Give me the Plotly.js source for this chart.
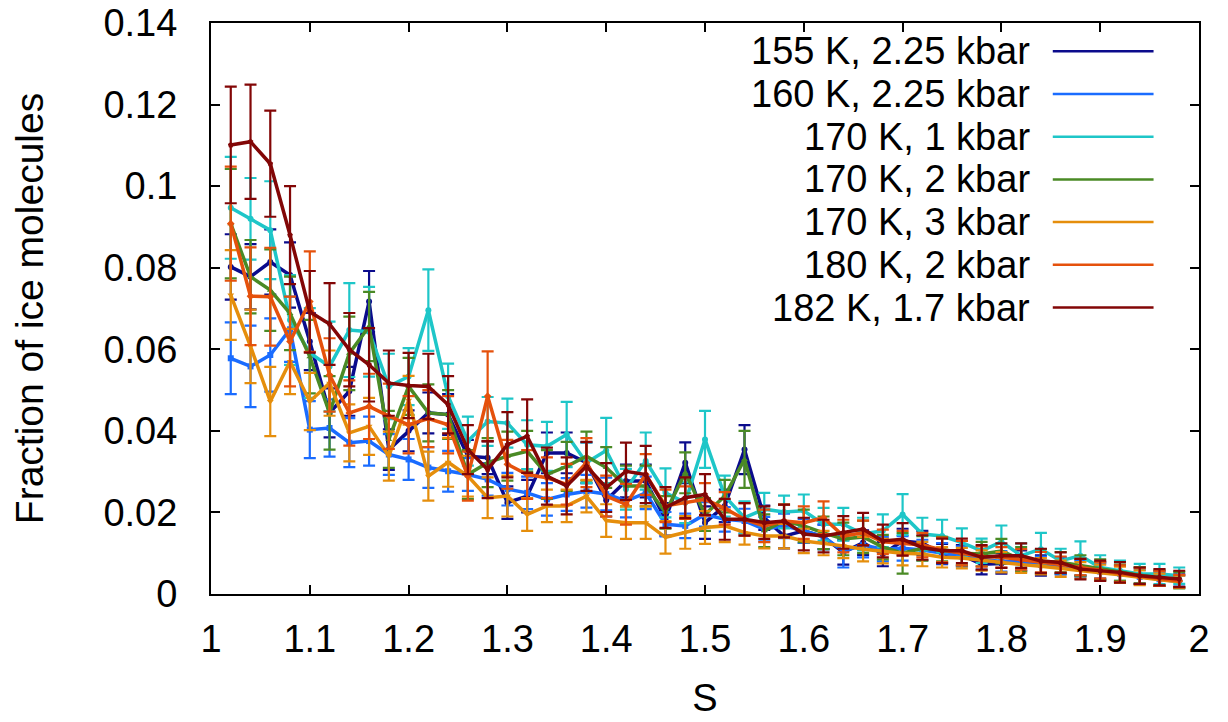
<!DOCTYPE html>
<html>
<head>
<meta charset="utf-8">
<script src="https://cdn.plot.ly/plotly-3.0.1.min.js"></script>
<style>html,body{margin:0;padding:0;background:#fff;}#chart{width:1228px;height:722px;}</style>
</head>
<body>
<div id="chart"></div>
<script>
const S = [1.02,1.04,1.06,1.08,1.10,1.12,1.14,1.16,1.18,1.20,1.22,1.24,1.26,1.28,1.30,1.32,1.34,1.36,1.38,1.40,
           1.42,1.44,1.46,1.48,1.50,1.52,1.54,1.56,1.58,1.60,1.62,1.64,1.66,1.68,1.70,1.72,1.74,1.76,1.78,1.80,
           1.82,1.84,1.86,1.88,1.90,1.92,1.94,1.96,1.98];

const labels = ["155 K, 2.25 kbar","160 K, 2.25 kbar","170 K, 1 kbar","170 K, 2 kbar","170 K, 3 kbar","180 K, 2 kbar","182 K, 1.7 kbar"];

const y155 = [0.0802,0.0778,0.0814,0.0782,0.0619,0.0444,0.0497,0.0717,0.0354,0.0400,0.0444,0.0440,0.0338,0.0334,0.0224,0.0240,0.0346,0.0346,0.0322,0.0230,
              0.0277,0.0277,0.0183,0.0322,0.0175,0.0216,0.0354,0.0187,0.0142,0.0155,0.0140,0.0102,0.0126,0.0098,0.0130,0.0125,0.0098,0.0095,0.0073,0.0075,
              0.0082,0.0070,0.0068,0.0065,0.0058,0.0050,0.0045,0.0038,0.0033];
const e155 = [0.008,0.008,0.008,0.008,0.007,0.006,0.006,0.0075,0.005,0.005,0.005,0.005,0.004,0.004,0.004,0.004,0.005,0.005,0.005,0.004,
              0.004,0.004,0.004,0.005,0.004,0.004,0.006,0.003,0.003,0.003,0.003,0.003,0.003,0.003,0.003,0.003,0.0025,0.0025,0.0025,0.0025,
              0.0025,0.0025,0.002,0.002,0.002,0.002,0.002,0.0018,0.0015];

const y160 = [0.0578,0.0558,0.0586,0.0649,0.0403,0.0407,0.0371,0.0375,0.0342,0.0330,0.0310,0.0301,0.0293,0.0281,0.0257,0.0248,0.0232,0.0244,0.0252,0.0245,
              0.0228,0.0248,0.0171,0.0167,0.0195,0.0183,0.0179,0.0159,0.0167,0.0155,0.0140,0.0105,0.0120,0.0110,0.0112,0.0108,0.0100,0.0092,0.0085,0.0080,
              0.0078,0.0072,0.0070,0.0062,0.0055,0.0050,0.0042,0.0036,0.0030];
const e160 = [0.0088,0.010,0.009,0.008,0.007,0.007,0.006,0.006,0.005,0.005,0.005,0.005,0.004,0.004,0.004,0.004,0.004,0.004,0.004,0.004,
              0.004,0.004,0.003,0.003,0.003,0.003,0.003,0.003,0.003,0.003,0.003,0.004,0.003,0.003,0.003,0.0025,0.0025,0.0025,0.0025,0.0025,
              0.002,0.002,0.002,0.002,0.002,0.002,0.0018,0.0015,0.0015];

const y170a = [0.0947,0.0920,0.0892,0.0672,0.0591,0.0558,0.0647,0.0643,0.0509,0.0533,0.0696,0.0485,0.0375,0.0423,0.0419,0.0366,0.0362,0.0391,0.0322,0.0352,
               0.0257,0.0326,0.0248,0.0224,0.0379,0.0240,0.0187,0.0208,0.0201,0.0204,0.0171,0.0171,0.0147,0.0155,0.0195,0.0147,0.0142,0.0126,0.0106,0.0128,
               0.0094,0.0110,0.0081,0.0094,0.0065,0.0057,0.0049,0.0049,0.0045];
const e170a = [0.0125,0.010,0.012,0.011,0.011,0.011,0.0115,0.011,0.008,0.007,0.010,0.008,0.006,0.006,0.006,0.006,0.006,0.008,0.005,0.008,
               0.005,0.007,0.006,0.005,0.007,0.005,0.004,0.004,0.004,0.004,0.004,0.004,0.004,0.004,0.005,0.004,0.004,0.0035,0.003,0.004,
               0.003,0.004,0.003,0.0035,0.003,0.0025,0.0025,0.0025,0.002];

const y170b = [0.0908,0.0778,0.0745,0.0688,0.0582,0.0444,0.0590,0.0656,0.0379,0.0509,0.0444,0.0440,0.0293,0.0322,0.0338,0.0350,0.0293,0.0313,0.0338,0.0310,
               0.0265,0.0265,0.0200,0.0297,0.0195,0.0240,0.0330,0.0155,0.0179,0.0167,0.0150,0.0135,0.0140,0.0115,0.0100,0.0112,0.0110,0.0100,0.0098,0.0105,
               0.0085,0.0080,0.0078,0.0070,0.0060,0.0052,0.0046,0.0040,0.0034];
const e170b = [0.0134,0.009,0.010,0.009,0.009,0.009,0.009,0.0085,0.007,0.007,0.007,0.006,0.006,0.006,0.006,0.005,0.006,0.006,0.006,0.005,
               0.005,0.005,0.004,0.005,0.004,0.004,0.007,0.004,0.004,0.004,0.004,0.004,0.004,0.003,0.005,0.003,0.003,0.003,0.003,0.003,
               0.003,0.003,0.0025,0.0025,0.0025,0.002,0.002,0.002,0.002];

const y170c = [0.0733,0.0607,0.0472,0.0570,0.0472,0.0517,0.0395,0.0411,0.0338,0.0475,0.0289,0.0323,0.0289,0.0236,0.0240,0.0195,0.0216,0.0216,0.0240,0.0180,
               0.0175,0.0175,0.0139,0.0151,0.0163,0.0167,0.0151,0.0142,0.0142,0.0130,0.0125,0.0118,0.0110,0.0105,0.0100,0.0098,0.0090,0.0088,0.0082,0.0078,
               0.0072,0.0068,0.0062,0.0058,0.0052,0.0047,0.0040,0.0035,0.0030];
const e170c = [0.011,0.009,0.0085,0.008,0.007,0.008,0.007,0.007,0.006,0.006,0.006,0.006,0.005,0.005,0.005,0.004,0.004,0.004,0.004,0.004,
               0.004,0.004,0.004,0.004,0.004,0.004,0.003,0.003,0.003,0.003,0.003,0.003,0.003,0.003,0.003,0.003,0.0025,0.0025,0.0025,0.0025,
               0.002,0.002,0.002,0.002,0.002,0.002,0.0018,0.0015,0.0015];

const y180 = [0.0908,0.0730,0.0729,0.0619,0.0717,0.0537,0.0444,0.0460,0.0436,0.0415,0.0430,0.0415,0.0289,0.0485,0.0318,0.0293,0.0285,0.0269,0.0322,0.0240,
              0.0220,0.0293,0.0216,0.0224,0.0232,0.0210,0.0183,0.0167,0.0179,0.0175,0.0187,0.0142,0.0150,0.0128,0.0125,0.0120,0.0108,0.0100,0.0092,0.0090,
              0.0085,0.0078,0.0072,0.0066,0.0058,0.0050,0.0044,0.0038,0.0032];
const e180 = [0.014,0.012,0.012,0.011,0.0123,0.009,0.008,0.008,0.008,0.007,0.007,0.007,0.006,0.011,0.006,0.006,0.005,0.005,0.006,0.005,
              0.005,0.005,0.004,0.004,0.004,0.004,0.004,0.004,0.004,0.004,0.004,0.004,0.003,0.003,0.003,0.003,0.003,0.003,0.0025,0.0025,
              0.0025,0.0025,0.002,0.002,0.002,0.002,0.002,0.0018,0.0015];

const y182 = [0.1101,0.1109,0.1055,0.0880,0.0692,0.0662,0.0599,0.0562,0.0517,0.0511,0.0509,0.0464,0.0354,0.0305,0.0366,0.0387,0.0289,0.0265,0.0313,0.0261,
              0.0301,0.0293,0.0212,0.0236,0.0244,0.0183,0.0183,0.0175,0.0179,0.0147,0.0142,0.0151,0.0159,0.0130,0.0134,0.0114,0.0106,0.0106,0.0090,0.0094,
              0.0094,0.0081,0.0077,0.0061,0.0057,0.0053,0.0045,0.0041,0.0037];
const e182 = [0.0143,0.014,0.013,0.012,0.010,0.010,0.009,0.009,0.008,0.008,0.008,0.007,0.006,0.007,0.008,0.009,0.007,0.007,0.006,0.006,
              0.007,0.007,0.005,0.005,0.005,0.005,0.004,0.004,0.004,0.004,0.004,0.004,0.004,0.004,0.004,0.003,0.003,0.003,0.003,0.003,
              0.003,0.003,0.0025,0.0025,0.0025,0.0025,0.002,0.002,0.002];

const xTicks = [1,1.1,1.2,1.3,1.4,1.5,1.6,1.7,1.8,1.9,2];
const yTicks = [0,0.02,0.04,0.06,0.08,0.1,0.12,0.14];

const series = [
  {y:y155, e:e155, color:"#0b0b8c", sym:"circle"},
  {y:y160, e:e160, color:"#1a6cff", sym:"square"},
  {y:y170a, e:e170a, color:"#1ec6c8", sym:"circle"},
  {y:y170b, e:e170b, color:"#4a8a25", sym:"triangle-up"},
  {y:y170c, e:e170c, color:"#e58e0c", sym:"triangle-down"},
  {y:y180, e:e180, color:"#e5510c", sym:"diamond"},
  {y:y182, e:e182, color:"#820606", sym:"pentagon"}
];

const FONT = "Liberation Sans, Arial, sans-serif";

const traces = series.map((s, i) => ({
  x: S, y: s.y, name: labels[i], type: "scatter", mode: "lines+markers",
  line: {color: s.color, width: 3.5},
  marker: {color: s.color, size: 6, symbol: s.sym},
  error_y: {type: "data", array: s.e, visible: true, color: s.color, thickness: 2.2, width: 6},
  showlegend: false
}));

const shapes = [];
const annotations = [];
series.forEach((s, i) => {
  const py = 0.9505 - i * 0.0748;
  shapes.push({type: "line", xref: "paper", yref: "paper", x0: 0.852, x1: 0.954, y0: py, y1: py,
               line: {color: s.color, width: 2.5}});
  annotations.push({xref: "paper", yref: "paper", x: 0.831, y: py, xanchor: "right", yanchor: "middle",
                    text: labels[i], showarrow: false, font: {family: FONT, size: 38, color: "#000"}});
});

const axisCommon = {
  showline: true, linecolor: "#000", linewidth: 2, mirror: "ticks",
  ticks: "inside", ticklen: 9, tickwidth: 2, tickcolor: "#000",
  showgrid: false, zeroline: false,
  tickfont: {family: FONT, size: 38, color: "#000"}
};

const layout = {
  width: 1228, height: 722,
  margin: {l: 211, r: 29, t: 23, b: 128},
  paper_bgcolor: "#fff", plot_bgcolor: "#fff",
  font: {family: FONT, color: "#000"},
  xaxis: Object.assign({}, axisCommon, {
    range: [1, 2], tickvals: xTicks, ticktext: xTicks.map(String), ticklabelstandoff: 10,
    title: {text: "S", font: {family: FONT, size: 38, color: "#000"}, standoff: 26}
  }),
  yaxis: Object.assign({}, axisCommon, {
    range: [0, 0.14], tickvals: yTicks, ticktext: yTicks.map(String), ticklabelstandoff: 24,
    title: {text: "Fraction of ice molecules", font: {family: FONT, size: 39, color: "#000"}, standoff: 48}
  }),
  showlegend: false,
  shapes: shapes,
  annotations: annotations
};

Plotly.newPlot("chart", traces, layout, {staticPlot: true, displayModeBar: false});
</script>
</body>
</html>
